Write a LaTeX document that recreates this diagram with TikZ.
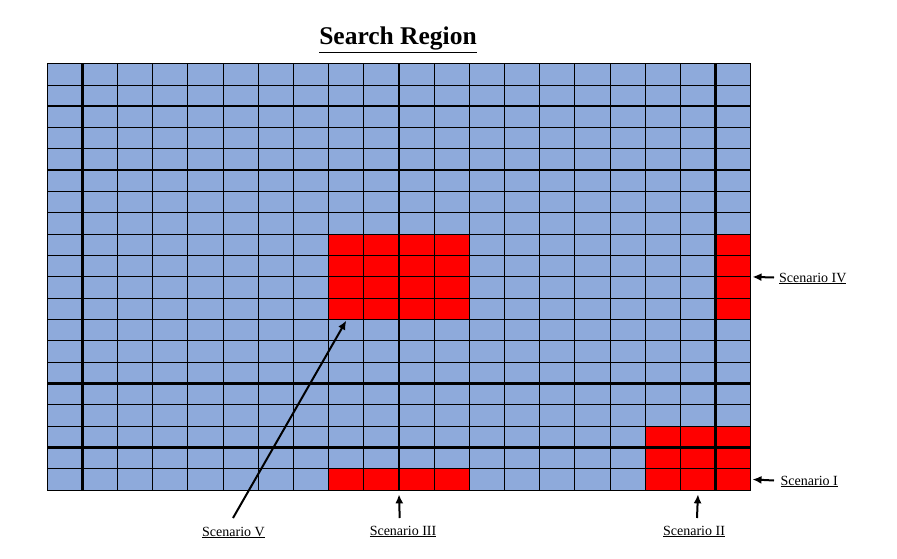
\documentclass[tikz,border=0pt]{standalone}
\usepackage{fontspec}
\setmainfont{Liberation Serif}
\usetikzlibrary{arrows.meta}
\definecolor{cellblue}{RGB}{142,170,219}
\definecolor{cellred}{RGB}{255,0,0}
\tikzset{
  thinline/.style={draw=black, line width=1pt},
  thickline/.style={draw=black, line width=2.2pt},
  pointer/.style={draw=black, line width=2pt, -{Latex[length=9pt,width=8pt]}},
  lab/.style={font=\fontsize{14}{16}\selectfont, inner sep=1pt, anchor=base},
}
\begin{document}
\begin{tikzpicture}[x=1pt,y=-1pt]
\useasboundingbox (0,0) rectangle (897,559);
% title
\node[font=\fontsize{25.5}{30}\selectfont\bfseries, anchor=base, inner sep=0pt] (title) at (398,44.7) {\underline{Search Region}};
% grid
\begin{scope}[shift={(47.3pt,-63.7pt)}, x=35.17pt, y=-21.32pt]
  \fill[cellblue] (0,0) rectangle (20,20);
  \fill[cellred] (8,8) rectangle (12,12);
  \fill[cellred] (19,8) rectangle (20,12);
  \fill[cellred] (8,19) rectangle (12,20);
  \fill[cellred] (17,17) rectangle (20,20);
  \foreach \i in {0,...,20} {
    \draw[thinline] (\i,0) -- (\i,20);
    \draw[thinline] (0,\i) -- (20,\i);
  }
  \foreach \i in {1,10,19} \draw[thickline] (\i,0) -- (\i,20);
  \foreach \j in {2,5,15,18} \draw[thickline] (0,\j) -- (20,\j);
  \draw[thinline] (0,0) rectangle (20,20);
  % targets
  \coordinate (tV) at (8.5,12.05);
  \coordinate (tIII) at (10,20.2);
  \coordinate (tII) at (18.5,20.2);
  \coordinate (tIV) at (20.05,10);
  \coordinate (tI) at (20.05,19.5);
\end{scope}
% labels
\node[lab] (labV) at (233.5,536) {\underline{Scenario V}};
\node[lab] (labIII) at (403,535) {\underline{Scenario III}};
\node[lab] (labII) at (694,535) {\underline{Scenario II}};
\node[lab, anchor=base west] (labIV) at (778,282) {\underline{Scenario IV}};
\node[lab, anchor=base west] (labI) at (779.5,485) {\underline{Scenario I}};
% tails
\coordinate (sV) at (233,518);
\coordinate (sIII) at (399.7,518);
\coordinate (sII) at (697,518);
\coordinate (sIV) at (774,277.5);
\coordinate (sI) at (774,480.5);
% arrows
\draw[pointer] (sV) -- (tV);
\draw[pointer] (sIII) -- (tIII);
\draw[pointer] (sII) -- (tII);
\draw[pointer] (sIV) -- (tIV);
\draw[pointer] (sI) -- (tI);
\end{tikzpicture}
\end{document}
